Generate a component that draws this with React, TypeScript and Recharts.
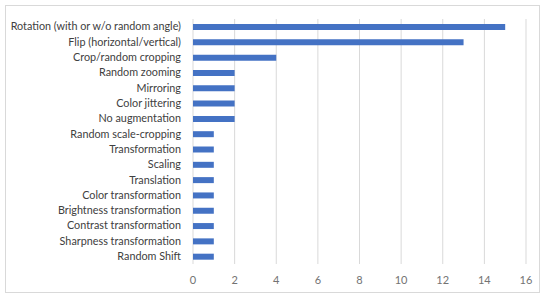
import React from 'react';
import { BarChart, Bar, XAxis, YAxis, CartesianGrid } from 'recharts';

const categories = [
  'Rotation (with or w/o random angle)',
  'Flip (horizontal/vertical)',
  'Crop/random cropping',
  'Random zooming',
  'Mirroring',
  'Color jittering',
  'No augmentation',
  'Random scale-cropping',
  'Transformation',
  'Scaling',
  'Translation',
  'Color transformation',
  'Brightness transformation',
  'Contrast transformation',
  'Sharpness transformation',
  'Random Shift',
];

const counts = [15, 13, 4, 2, 2, 2, 2, 1, 1, 1, 1, 1, 1, 1, 1, 1];

const xTicks = [0, 2, 4, 6, 8, 10, 12, 14, 16];

const data = categories.map((name, i) => ({ name, value: counts[i] }));

const FONT = 'Lato, "Noto Sans", sans-serif';

// single-line category label (recharts would otherwise wrap the long one)
const CategoryTick = ({ x, y, payload }: any) => (
  <text
    x={x - 2}
    y={y}
    dy="0.35em"
    textAnchor="end"
    fontSize={10.8}
    fontFamily={FONT}
    fill="#404040"
  >
    {payload.value}
  </text>
);

export default function App() {
  return (
    <div style={{ position: 'absolute', left: 0, top: 0, width: 550, height: 298, background: '#fff' }}>
      <div
        style={{
          position: 'absolute',
          left: 5,
          top: 5,
          width: 533,
          height: 286,
          border: '1px solid #d9d9d9',
        }}
      />
      <div style={{ position: 'absolute', left: 0, top: 0 }}>
        <BarChart
          width={550}
          height={298}
          data={data}
          layout="vertical"
          margin={{ top: 19, right: 24, left: 0, bottom: 0 }}
        >
          <CartesianGrid horizontal={false} vertical={true} stroke="#d9d9d9" />
          <XAxis
            type="number"
            domain={[0, 16]}
            ticks={xTicks}
            height={34}
            axisLine={false}
            tickLine={false}
            tickMargin={6}
            interval={0}
            tick={{ fontSize: 11, fill: '#737373', fontFamily: FONT }}
          />
          <YAxis
            type="category"
            dataKey="name"
            width={193}
            axisLine={false}
            tickLine={false}
            tickMargin={4}
            interval={0}
            tick={<CategoryTick />}
          />
          <Bar dataKey="value" fill="#4472c4" barSize={6} isAnimationActive={false} />
        </BarChart>
      </div>
    </div>
  );
}
